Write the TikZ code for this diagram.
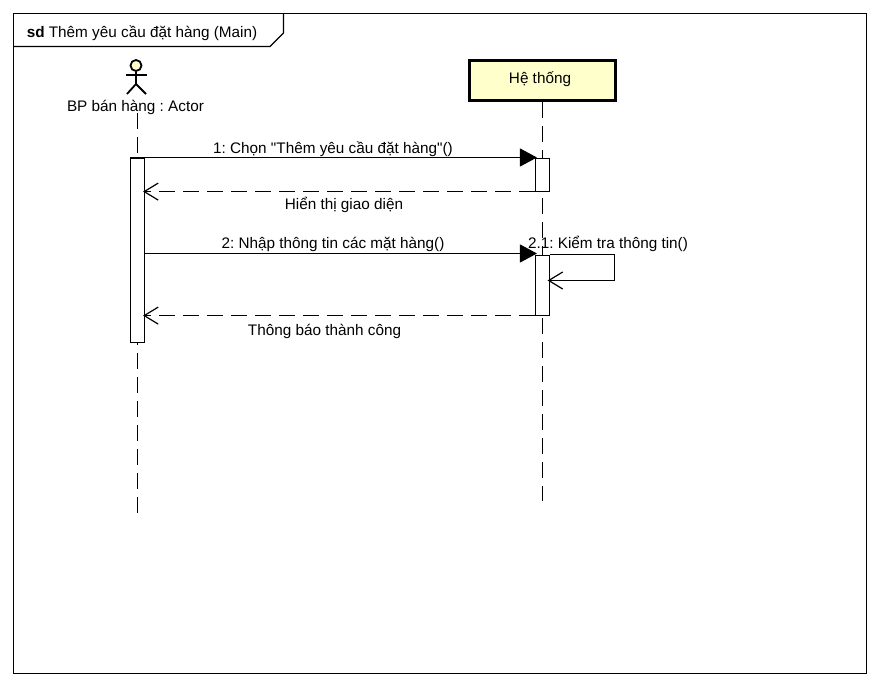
\documentclass[tikz,border=0pt]{standalone}
\usepackage{fontspec}
\setmainfont{Liberation Sans}[Ligatures=TeXOff]
\usetikzlibrary{arrows.meta}
\tikzset{
  lbl/.style={inner sep=0pt, font=\fontsize{15.3bp}{17bp}\selectfont\frenchspacing},
  bar/.style={draw, fill=white, line width=1.1bp, minimum width=14bp, inner sep=0pt, anchor=north},
  lifeline/.style={line width=1.2bp, dash pattern=on 16bp off 8bp},
  call/.style={line width=1.2bp, -{Triangle[length=17bp,width=18bp,sep=-2bp]}},
  reply/.style={line width=1.2bp, dash pattern=on 16bp off 8bp, -{Straight Barb[length=14bp,width=17bp,line width=1.2bp,sep=-2bp]}},
  selfcall/.style={line width=1.2bp, -{Straight Barb[length=14bp,width=17bp,line width=1.2bp,sep=-2.5bp]}}
}
\begin{document}
\begin{tikzpicture}[x=1bp,y=-1bp]
\useasboundingbox (0,0) rectangle (880,686);
%%
  \draw[line width=1.2bp] (13.5,13.5) rectangle (866.5,673.5);
  \draw[line width=1.2bp] (13.5,46.5) -- (270,46.5) -- (283.5,33) -- (283.5,13.5);
  \node (title) at (142,33) [lbl] {\textbf{sd} Thêm yêu cầu đặt hàng (Main)};
%
  \node (head) at (136,65.5) [draw, circle, fill=yellow!20, line width=1.8bp, minimum size=11bp, inner sep=0pt] {};
  \coordinate (neck) at (136,84);
  \draw[line width=1.8bp] (head) -- (neck);
  \coordinate (armL) at (126,75);
  \coordinate (armR) at (147,75);
  \draw[line width=1.8bp] (armL) -- (armR);
  \coordinate (legL) at (127,94);
  \coordinate (legR) at (146,94);
  \draw[line width=1.8bp] (legL) -- (neck) -- (legR);
  \node (actor) at (135.5,107) [lbl] {BP bán hàng : Actor};
  \node (system) at (542.5,80.5) [draw, fill={rgb,255:red,255;green,255;blue,204}, line width=3bp, minimum width=146bp, minimum height=40bp, inner sep=0pt] {};
  \node (systemlbl) at (540,79) [lbl] {Hệ thống};
%
  \coordinate (end1) at (137.5,514);
  \coordinate (end2) at (542.5,501);
  \coordinate (start1) at (137.5,113);
  \draw[lifeline] (start1) -- (end1);
  \draw[lifeline] (system) -- (end2);
%
  \node (act1) at (137.5,157.5) [bar, minimum height=184.5bp] {};
  \node (act2) at (542.5,157.5) [bar, minimum height=33bp] {};
  \node (act3) at (542.5,254.5) [bar, minimum height=60bp] {};
%
  \draw[call] (act1.north east) -- (act2.north west);
  \node (m1) at (333,149) [lbl] {1: Chọn "Thêm yêu cầu đặt hàng"()};
  \draw[reply] (act2.south west) -- (act2.south west -| act1.east);
  \node (m2) at (344,205) [lbl] {Hiển thị giao diện};
  \coordinate (m3s) at (144.5,253.5);
  \draw[call] (m3s) -- (m3s -| act3.west);
  \node (m3) at (333,244) [lbl] {2: Nhập thông tin các mặt hàng()};
  \coordinate (selfa) at (614.5,254.5);
  \coordinate (selfb) at (614.5,280.5);
  \draw[selfcall] (act3.north east) -- (selfa) -- (selfb) -- (selfb -| act3.east);
  \node (m4) at (608,244) [lbl] {2.1: Kiểm tra thông tin()};
  \draw[reply] (act3.south west) -- (act3.south west -| act1.east);
  \node (m5) at (324.5,331) [lbl] {Thông báo thành công};
%
\end{tikzpicture}
\end{document}
